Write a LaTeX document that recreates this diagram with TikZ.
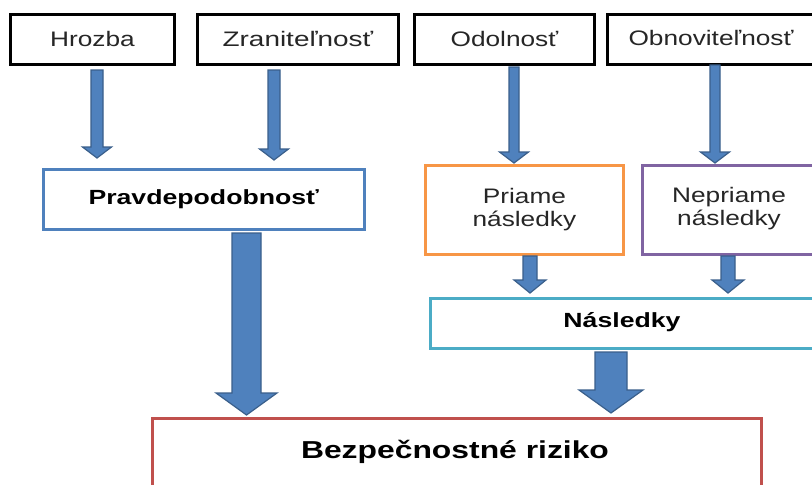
\documentclass[tikz,border=0pt]{standalone}
\usepackage{fontspec}
\setmainfont{Liberation Sans}
\usetikzlibrary{calc}
\definecolor{arrfill}{HTML}{4F81BD}
\definecolor{arrline}{HTML}{3A5F8B}
\definecolor{cblue}{HTML}{4F81BD}
\definecolor{corange}{HTML}{F79646}
\definecolor{cpurple}{HTML}{8064A2}
\definecolor{ccyan}{HTML}{4BACC6}
\definecolor{cred}{HTML}{C0504D}
\newcommand{\sx}[2][1.25]{\scalebox{#1}[1]{#2}}
\newcommand{\barrow}[5]{\draw[arr] let \p1=(#1), \p2=(#2) in
  (\x1-#3,\y1) -- (\x1+#3,\y1) -- (\x1+#3,\y2+#5) -- (\x1+#4,\y2+#5) -- (\x1,\y2)
  -- (\x1-#4,\y2+#5) -- (\x1-#3,\y2+#5) -- cycle;}
\tikzset{
  box/.style={draw, fill=white, inner sep=0pt, anchor=north west},
  topbox/.style={box, line width=2.8pt, draw=black},
  arr/.style={fill=arrfill, draw=arrline, line width=1.2pt, line join=miter},
  lab/.style={font=\fontsize{21}{24}\selectfont, text=black!85},
  blab/.style={font=\fontsize{20.5}{24}\selectfont\bfseries, text=black},
}
\begin{document}
\begin{tikzpicture}[x=1pt,y=-1pt]
\useasboundingbox[fill=white] (0,0) rectangle (812,485);
% top boxes
\node[topbox, minimum width=164pt, minimum height=50pt] (hro) at (9,13) {};
\node[lab] at (hro.center) {\sx{Hrozba}};
\node[topbox, minimum width=201pt, minimum height=50pt] (zra) at (196,13) {};
\node[lab] at (zra.center) {\sx[1.33]{Zraniteľnosť}};
\node[topbox, minimum width=180pt, minimum height=50pt] (odo) at (413,13) {};
\node[lab] at (odo.center) {\sx{Odolnosť}};
\node[topbox, minimum width=210pt, minimum height=50pt] (obn) at (606,13) {};
\node[lab] at (711,38) {\sx{Obnoviteľnosť}};
% middle boxes
\node[box, draw=cblue, line width=2.5pt, minimum width=321pt, minimum height=60pt] (pra) at (42,168) {};
\node[blab] at (pra.center) {\sx[1.3]{Pravdepodobnosť}};
\node[box, draw=corange, line width=2.8pt, minimum width=198pt, minimum height=89pt] (pri) at (424,164) {};
\node[lab, align=center] at (pri.center) {\sx{Priame}\\[-1pt]\sx{následky}};
\node[box, draw=cpurple, line width=2.8pt, minimum width=176pt, minimum height=89pt] (nep) at (641,164) {};
\node[lab, align=center] at (729,208.5) {\sx{Nepriame}\\[-1pt]\sx{následky}};
\node[box, draw=ccyan, line width=2.8pt, minimum width=386pt, minimum height=50pt] (nas) at (429,297) {};
\node[blab] at (622,322) {\sx[1.3]{Následky}};
\node[box, draw=cred, line width=2.5pt, minimum width=609pt, minimum height=80pt] (riz) at (151,417) {};
\node[blab, font=\fontsize{24.5}{28}\selectfont\bfseries] at (455,452) {\sx[1.3]{Bezpečnostné riziko}};
% arrow start coordinates
\coordinate (s1) at (97,70);
\coordinate (s2) at (274,70);
\coordinate (s3) at (514,67);
\coordinate (s4) at (715,65);
\coordinate (s5) at (530,256);
\coordinate (s6) at (728,256);
\coordinate (s7) at (246.5,233);
\coordinate (s8) at (611,352);
% arrows
\barrow{s1}{$(s1 |- pra.north)+(0,-10)$}{6pt}{14.5pt}{11pt}
\barrow{s2}{$(s2 |- pra.north)+(0,-8)$}{6pt}{14.5pt}{11pt}
\barrow{s3}{$(s3 |- pri.north)+(0,-1)$}{5pt}{14.5pt}{11pt}
\barrow{s4}{$(s4 |- nep.north)+(0,-1)$}{5pt}{14.5pt}{11pt}
\barrow{s5}{$(s5 |- nas.north)+(0,-4)$}{7pt}{16pt}{13pt}
\barrow{s6}{$(s6 |- nas.north)+(0,-4)$}{7pt}{16pt}{13pt}
\barrow{s7}{$(s7 |- riz.north)+(0,-2)$}{14.5pt}{30.5pt}{22pt}
\barrow{s8}{$(s8 |- riz.north)+(0,-4)$}{16pt}{32pt}{23pt}
\end{tikzpicture}
\end{document}
